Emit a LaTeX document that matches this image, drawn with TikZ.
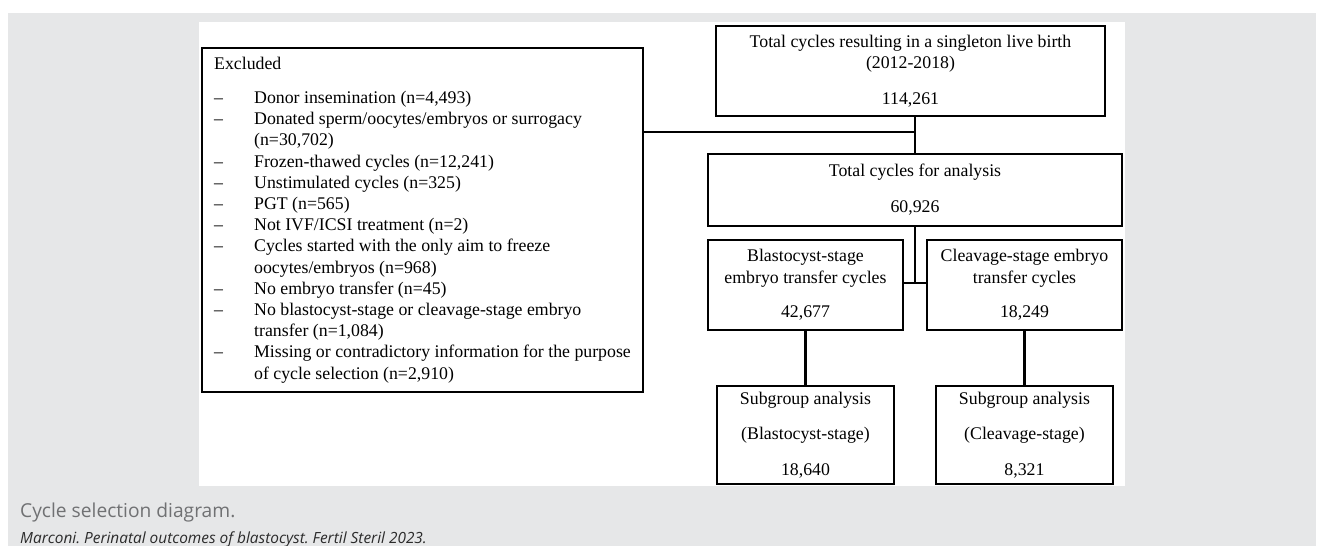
\documentclass[tikz,border=0pt]{standalone}
\usepackage{fontspec}
\setmainfont{Liberation Serif}
\newfontfamily\capfont{Open Sans}
\usepackage{array}
\usepackage{tikz}
\usepackage{xcolor}
\definecolor{pagegray}{HTML}{E6E7E8}
\definecolor{capgray}{HTML}{707173}
\definecolor{capdark}{HTML}{2B2B2B}
\newcommand{\exdash}{--}
\frenchspacing

\begin{document}
\begin{tikzpicture}[x=1pt, y=-1pt, every node/.style={font=\fontsize{17.8}{21.2}\selectfont},
  box/.style={draw, line width=2.2pt, inner sep=0pt, align=center},
  link/.style={line width=2.2pt}]
\useasboundingbox (0,0) rectangle (1318,546);
\fill[pagegray] (8,13) rectangle (1316,546);
\fill[white] (199,22) rectangle (1125,486);
\node[box, minimum width=441pt, minimum height=344pt] (excl) at (422.5,220) {%
\begin{tabular}{@{}p{40pt}@{}l@{}}
\multicolumn{2}{@{}l@{}}{Excluded}\\[12.8pt]
\exdash & Donor insemination (n=4,493)\\
\exdash & Donated sperm/oocytes/embryos or surrogacy\\
 & (n=30,702)\\
\exdash & Frozen-thawed cycles (n=12,241)\\
\exdash & Unstimulated cycles (n=325)\\
\exdash & PGT (n=565)\\
\exdash & Not IVF/ICSI treatment (n=2)\\
\exdash & Cycles started with the only aim to freeze\\
 & oocytes/embryos (n=968)\\
\exdash & No embryo transfer (n=45)\\
\exdash & No blastocyst-stage or cleavage-stage embryo\\
 & transfer (n=1,084)\\
\exdash & Missing or contradictory information for the purpose\\
 & of cycle selection (n=2,910)
\end{tabular}};
\node[box, minimum width=389pt, minimum height=90pt] (total) at (910.5,71) {Total cycles resulting in a singleton live birth\\(2012-2018)\\[14.6pt]114,261};
\node[box, minimum width=414pt, minimum height=72pt] (ana) at (915,190) {Total cycles for analysis\\[14.8pt]60,926};
\node[box, minimum width=195pt, minimum height=90pt] (blast) at (805.5,285) {Blastocyst-stage\\embryo transfer cycles\\[13.3pt]42,677};
\node[box, minimum width=195pt, minimum height=90pt] (cleav) at (1024.5,285) {Cleavage-stage embryo\\transfer cycles\\[13.3pt]18,249};
\node[box, minimum width=177pt, minimum height=98pt] (subb) at (805.5,435) {Subgroup analysis\\[14pt](Blastocyst-stage)\\[14pt]18,640};
\node[box, minimum width=177pt, minimum height=98pt] (subc) at (1024.5,435) {Subgroup analysis\\[14pt](Cleavage-stage)\\[14pt]8,321};
\coordinate (j1) at (915,132);
\coordinate (j2) at (915,283);
\draw[link] (excl.east |- j1)--(j1); \draw[link] (j1 |- total.south)--(j1 |- ana.north); \draw[link] (ana.south)--(j2); \draw[link] (blast.east |- j2)--(cleav.west |- j2); \draw[link] (blast.south)--(subb.north); \draw[link] (cleav.south)--(subc.north);
\node[anchor=base west, inner sep=0pt, text=capgray, font=\capfont\fontsize{19.2}{21}\selectfont] (cap) at (20,517) {Cycle selection diagram.};
\node[anchor=base west, inner sep=0pt, text=capdark, font=\capfont\itshape\fontsize{15.4}{18}\selectfont] (src) at (20,543) {Marconi. Perinatal outcomes of blastocyst. Fertil Steril 2023.};
\end{tikzpicture}
\end{document}
